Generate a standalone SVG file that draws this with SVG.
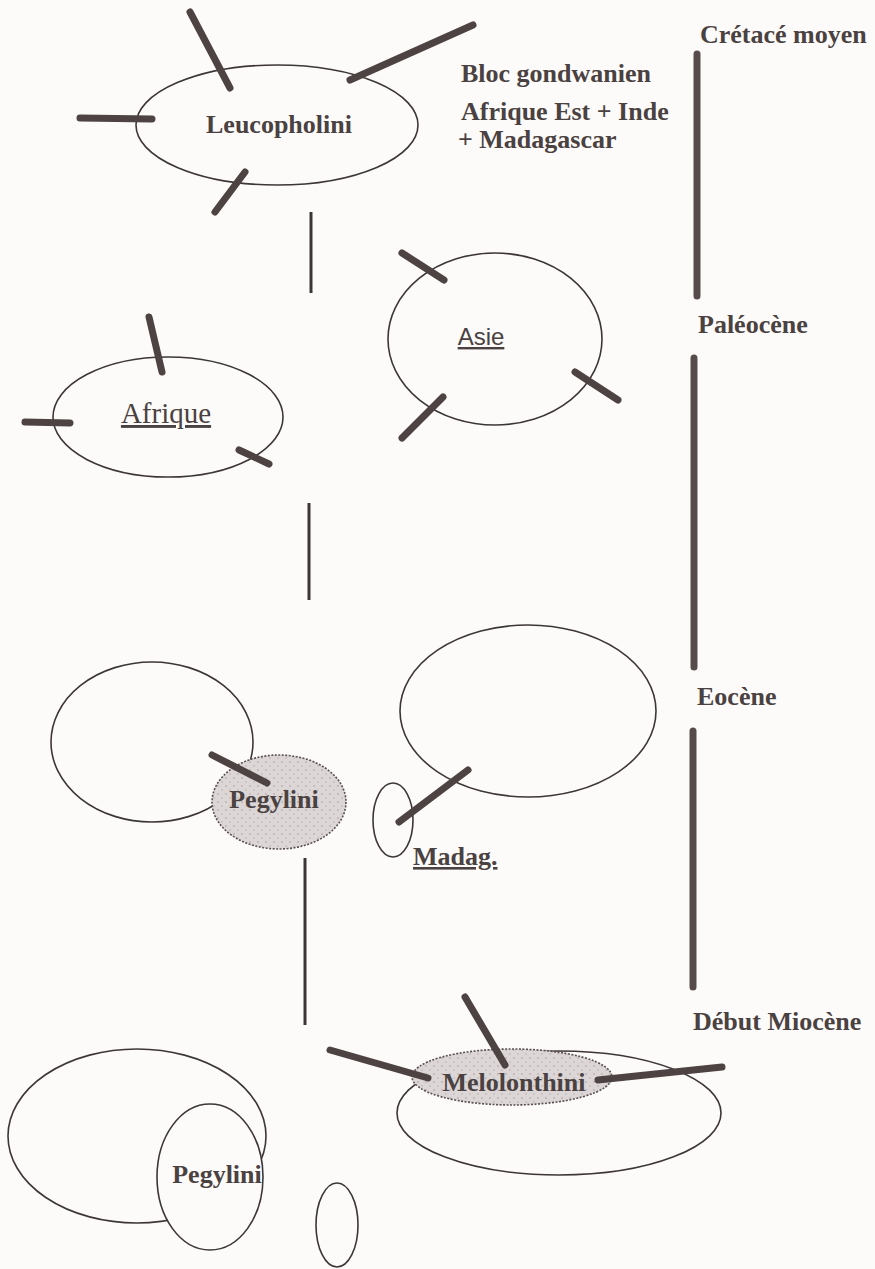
<svg xmlns="http://www.w3.org/2000/svg" width="875" height="1269" viewBox="0 0 875 1269">
<style>
.bg{fill:#fdfbf9}
.ell{fill:none;stroke:#3d3636;stroke-width:1.6}
.ellw{fill:#fdfbf9;stroke:#3d3636;stroke-width:1.6}
.shade{fill:url(#stip);stroke:#5a5050;stroke-width:1.6;stroke-dasharray:2 1.5}
.spoke{stroke:#4e4343;stroke-width:7;stroke-linecap:round;fill:none}
.bar{stroke:#574c4c;stroke-width:7;stroke-linecap:round;fill:none}
.thin{stroke:#3d3636;stroke-width:3;fill:none}
.t{font-family:"Liberation Serif","Times New Roman",serif;font-weight:bold;font-size:26px;fill:#4a4141}
.u{font-family:"Liberation Serif","Times New Roman",serif;font-size:29px;fill:#4a4141;text-decoration:underline}
.s{font-family:"Liberation Sans",Arial,sans-serif;font-size:24px;fill:#4a4141;text-decoration:underline}
</style>
<defs>
<pattern id="stip" width="8" height="8" patternUnits="userSpaceOnUse">
<rect width="8" height="8" fill="#dcd6d6"/>
<circle cx="2" cy="2" r="0.8" fill="#a89e9e"/>
<circle cx="6" cy="6" r="0.8" fill="#b8afaf"/>
</pattern>
</defs>
<rect class="bg" width="875" height="1269"/>

<g id="connectors">
<line class="thin" x1="311" y1="212" x2="311" y2="293"/>
<line class="thin" x1="309" y1="503" x2="309" y2="600"/>
<line class="thin" x1="305" y1="858" x2="305" y2="1025"/>
</g>

<g id="timeline">
<line class="bar" x1="697" y1="54" x2="697" y2="296"/>
<line class="bar" x1="694" y1="358" x2="694" y2="667"/>
<line class="bar" x1="693" y1="731" x2="693" y2="987"/>
<text class="t" x="700" y="43" font-size="26.5">Crétacé moyen</text>
<text class="t" x="698" y="333">Paléocène</text>
<text class="t" x="697" y="705">Eocène</text>
<text class="t" x="693" y="1030" font-size="26.5">Début Miocène</text>
</g>

<g id="legend">
<text class="t" x="461" y="82">Bloc gondwanien</text>
<text class="t" x="461" y="120" font-size="26.5">Afrique Est + Inde</text>
<text class="t" x="458" y="148" font-size="26.5">+ Madagascar</text>
</g>

<g id="leucopholini">
<ellipse class="ell" cx="277" cy="125" rx="141" ry="60"/>
<line class="spoke" x1="190" y1="12" x2="230" y2="88"/>
<line class="spoke" x1="350" y1="80" x2="473" y2="25"/>
<line class="spoke" x1="80" y1="118" x2="152" y2="119"/>
<line class="spoke" x1="245" y1="172" x2="215" y2="212"/>
<text class="t" x="279" y="133" text-anchor="middle" font-size="26.5">Leucopholini</text>
</g>

<g id="afrique">
<ellipse class="ell" cx="168" cy="417" rx="115" ry="60"/>
<line class="spoke" x1="149" y1="317" x2="162" y2="372"/>
<line class="spoke" x1="25" y1="422" x2="70" y2="423"/>
<line class="spoke" x1="239" y1="450" x2="269" y2="464"/>
<text class="u" x="166" y="423" text-anchor="middle">Afrique</text>
</g>

<g id="asie">
<ellipse class="ell" cx="495" cy="339" rx="107" ry="86"/>
<line class="spoke" x1="402" y1="253" x2="444" y2="280"/>
<line class="spoke" x1="575" y1="372" x2="618" y2="400"/>
<line class="spoke" x1="443" y1="397" x2="402" y2="438"/>
<text class="s" x="481" y="345" text-anchor="middle">Asie</text>
</g>

<g id="eocene-afrique">
<ellipse class="ell" cx="152" cy="742" rx="101" ry="80"/>
</g>

<g id="eocene-pegylini">
<ellipse class="shade" cx="279" cy="802" rx="67" ry="47"/>
<line class="spoke" x1="212" y1="755" x2="267" y2="783"/>
<text class="t" x="274" y="808" text-anchor="middle">Pegylini</text>
</g>

<g id="eocene-asie">
<ellipse class="ell" cx="528" cy="711" rx="128" ry="86"/>
</g>

<g id="madag">
<ellipse class="ell" cx="393" cy="820" rx="20" ry="37"/>
<line class="spoke" x1="468" y1="770" x2="399" y2="822"/>
<text class="t" x="413" y="865" font-size="27.5" text-decoration="underline">Madag.</text>
</g>

<g id="miocene-afrique">
<ellipse class="ell" cx="137" cy="1136" rx="129" ry="87"/>
<ellipse class="ellw" cx="210" cy="1177" rx="53" ry="73"/>
<text class="t" x="217" y="1183" text-anchor="middle" font-size="26.7">Pegylini</text>
</g>

<g id="miocene-madag">
<ellipse class="ell" cx="337" cy="1225" rx="21" ry="42"/>
</g>

<g id="melolonthini">
<ellipse class="ell" cx="559" cy="1113" rx="162" ry="62"/>
<ellipse class="shade" cx="512" cy="1077" rx="100" ry="28"/>
<line class="spoke" x1="330" y1="1050" x2="428" y2="1078"/>
<line class="spoke" x1="465" y1="997" x2="505" y2="1065"/>
<line class="spoke" x1="598" y1="1080" x2="722" y2="1067"/>
<text class="t" x="514" y="1091" text-anchor="middle" font-size="28">Melolonthini</text>
</g>
</svg>
